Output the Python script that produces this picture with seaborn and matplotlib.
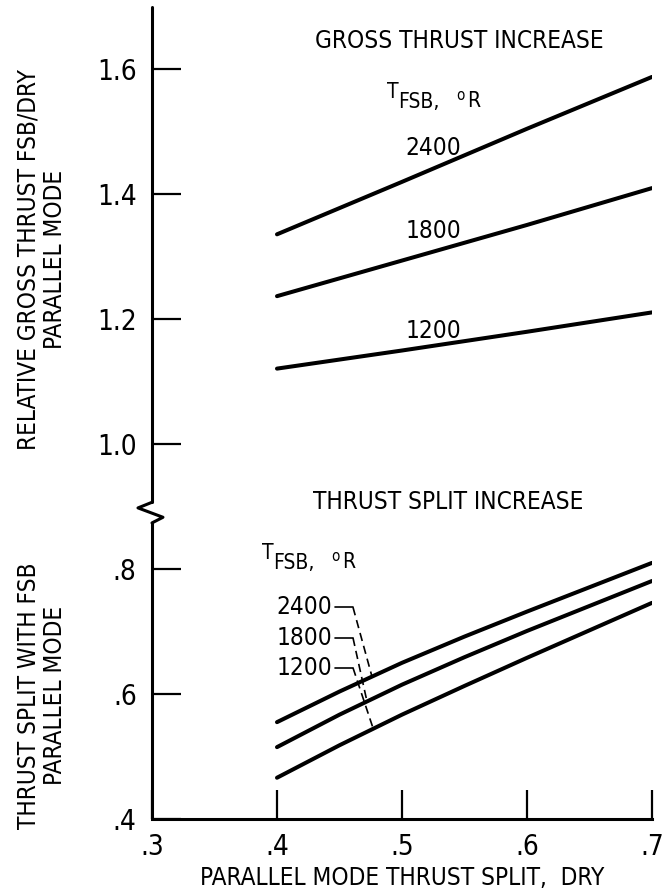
import numpy as np
import matplotlib
matplotlib.use("Agg")
import matplotlib.pyplot as plt
from matplotlib import font_manager as fm
import seaborn as sns

x_split = [0.40, 0.45, 0.50, 0.55, 0.60, 0.65, 0.70]
split_2400 = [0.555, 0.604, 0.650, 0.692, 0.732, 0.771, 0.810]
split_1800 = [0.515, 0.567, 0.615, 0.659, 0.701, 0.741, 0.781]
split_1200 = [0.466, 0.518, 0.567, 0.613, 0.658, 0.702, 0.746]

x_gross = [0.40, 0.50, 0.60, 0.70]
gross_2400 = [1.336, 1.420, 1.505, 1.588]
gross_1800 = [1.237, 1.294, 1.351, 1.410]
gross_1200 = [1.121, 1.150, 1.180, 1.211]

temps = ["2400", "1800", "1200"]
leader_x = [0.476, 0.472, 0.477]  # where the dashed leaders hit the split curves

yticks = [0.4, 0.6, 0.8, 1.0, 1.2, 1.4, 1.6]
yticklabels = [".4", ".6", ".8", "1.0", "1.2", "1.4", "1.6"]
xticks = [0.3, 0.4, 0.5, 0.6, 0.7]
xticklabels = [".3", ".4", ".5", ".6", ".7"]

sns.set_theme(style="white")

# pick a condensed face if one is around
cands = [f for f in fm.fontManager.ttflist
         if (f.stretch in ("condensed", "semi-condensed", "extra-condensed")
             or "Narrow" in f.name or "Condensed" in f.name)
         and f.style == "normal" and f.weight in (400, "normal", "regular")]
cands.sort(key=lambda f: (0 if "Liberation" in f.name else
                          1 if "DejaVu" in f.name else 2))
if cands:
    plt.rcParams["font.family"] = [cands[0].name, "DejaVu Sans"]
    plt.rcParams["font.stretch"] = cands[0].stretch
else:
    plt.rcParams["font.family"] = ["DejaVu Sans"]
for k in ["text.color", "axes.labelcolor", "xtick.color", "ytick.color"]:
    plt.rcParams[k] = "black"
fs = 17.5

fig = plt.figure(figsize=(6.64, 8.93), dpi=100)
ax = fig.add_axes([0.2289, 0.0829, 0.753, 0.9093])

for ys in [gross_2400, gross_1800, gross_1200]:
    sns.lineplot(x=x_gross, y=ys, ax=ax, color="black", lw=2.9)
for ys in [split_2400, split_1800, split_1200]:
    sns.lineplot(x=x_split, y=ys, ax=ax, color="black", lw=2.9)

ax.set_xlim(0.3, 0.7)
ax.set_ylim(0.4, 1.70)
ax.set_xticks(xticks)
ax.set_xticklabels(xticklabels)
ax.set_yticks(yticks)
ax.set_yticklabels(yticklabels)
ax.tick_params(bottom=True, left=True, direction="in", length=21, width=1.6,
               color="black", labelsize=20, labelcolor="black")
ax.tick_params(axis="y", pad=11)
ax.tick_params(axis="x", pad=10)

for s in ["top", "right", "left"]:
    ax.spines[s].set_visible(False)
ax.spines["bottom"].set_linewidth(2.2)
ax.spines["bottom"].set_color("black")

# broken left axis with zig-zag
ax.plot([0.3, 0.3], [0.4, 0.874], color="black", lw=2.2, clip_on=False)
ax.plot([0.3, 0.3], [0.907, 1.70], color="black", lw=2.2, clip_on=False)
ax.plot([0.3, 0.2888, 0.3088, 0.3], [0.907, 0.898, 0.883, 0.874],
        color="black", lw=2.2, clip_on=False)

# y labels
ax.text(-0.22, 1.296, "RELATIVE GROSS THRUST FSB/DRY\nPARALLEL MODE",
        transform=ax.get_yaxis_transform(), rotation=90, ha="center",
        va="center", multialignment="center", fontsize=fs, linespacing=1.15)
ax.text(-0.22, 0.598, "THRUST SPLIT WITH FSB\nPARALLEL MODE",
        transform=ax.get_yaxis_transform(), rotation=90, ha="center",
        va="center", multialignment="center", fontsize=fs, linespacing=1.15)
ax.set_xlabel("PARALLEL MODE THRUST SPLIT,  DRY", fontsize=fs, labelpad=4)


def t_label(x, y):
    # T with FSB hung below it, then degree-style o and R
    parts = [("T", 0, 10, 15), ("FSB,", 11, 0, 15), ("o", 69, 8, 11), ("R", 80, 1, 15)]
    for s, dx, dy, size in parts:
        ax.annotate(s, (x, y), xytext=(dx, dy), textcoords="offset pixels",
                    ha="left", va="baseline", fontsize=size)


ax.text(0.546, 1.646, "GROSS THRUST INCREASE", ha="center", va="center", fontsize=fs)
t_label(0.488, 1.5376)
for t, yy in zip(temps, [1.474, 1.342, 1.182]):
    ax.text(0.525, yy, t, ha="center", va="center", fontsize=fs)

ax.text(0.537, 0.907, "THRUST SPLIT INCREASE", ha="center", va="center", fontsize=fs)
t_label(0.388, 0.800)
for t, yy, xe, ys in zip(temps, [0.739, 0.690, 0.642], leader_x,
                         [split_2400, split_1800, split_1200]):
    ax.text(0.4445, yy, t, ha="right", va="center", fontsize=fs)
    ax.plot([0.4468, 0.4608], [yy, yy], color="black", lw=1.2)
    ax.plot([0.4608, xe], [yy, np.interp(xe, x_split, ys)], color="black",
            lw=1.2, ls=(0, (5, 3)))

fig.savefig("out.png", dpi=100)
